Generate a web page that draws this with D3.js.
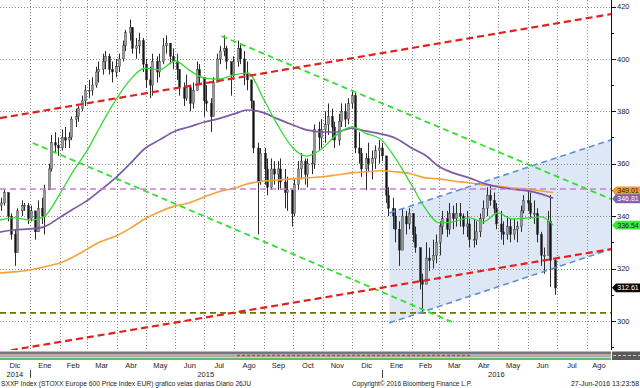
<!DOCTYPE html>
<html>
<head>
<meta charset="utf-8">
<script src="https://cdn.jsdelivr.net/npm/d3@7"></script>
<style>
body { margin: 0; background: #fff; }
svg text { font-family: "Liberation Sans", Arial, sans-serif; fill: #222; }
</style>
</head>
<body>
<script>

// half-week candles (Mon-Wed, Thu-Fri), from the week of 1-Dic-2014 to 27-Jun-2016
var lows = [
  342,344, 338,331, 321,327, 340,342, 337,338,
  331,334, 337,333, 350,357, 364,363, 365,366,
  366,369, 374,376, 380,382, 385,386, 389,391,
  394,396, 394,391, 393,395, 399,403, 407,402,
  400,402, 395,389, 385,386, 391,393, 398,402,
  398,396, 392,386, 382,384, 380,381, 388,390,
  378,380, 372,378, 392,398, 401,396, 386,392,
  397,398, 390,388, 381,364, 333,352, 352,348,
  350,352, 350,350, 343,342, 336,340, 350,354,
  352,351, 356,358, 365,366, 368,371, 369,366,
  367,374, 374,375, 381,364, 360,355, 350,357,
  354,358, 360,361, 345,340, 335,330, 321,330,
  333,335, 330,326, 312,303, 316,319, 320,322,
  325,333, 332,333, 335,336, 336,333, 332,328,
  328,329, 332,337, 340,344, 341,335, 331,329,
  331,330, 331,330, 334,341, 342,339, 337,330,
  321,318, 329,313, 310];
var highs = [
  347,350, 349,341, 335,343, 346,345, 345,344,
  341,346, 347,352, 360,371, 372,370, 373,374,
  372,378, 381,382, 386,390, 392,393, 397,399,
  402,403, 402,399, 400,402, 407,411, 415,412,
  408,410, 408,400, 397,402, 401,402, 408,409,
  406,404, 402,396, 391,394, 390,391, 399,398,
  390,390, 385,393, 402,405, 409,405, 398,401,
  407,406, 403,399, 392,383, 368,366, 366,362,
  362,361, 361,362, 358,355, 350,354, 361,364,
  362,362, 365,375, 376,377, 380,383, 381,376,
  379,383, 383,385, 388,387, 372,366, 364,368,
  365,367, 369,368, 360,351, 347,343, 338,343,
  342,343, 341,336, 327,318, 330,328, 331,333,
  338,342, 342,345, 344,345, 345,341, 342,339,
  339,338, 341,346, 351,352, 349,345, 342,338,
  340,339, 339,338, 344,348, 350,349, 346,343,
  334,328, 342,348, 324];
var closes = [
  345,349, 340,333, 326,342, 344,344, 339,342,
  334,343, 340,350, 358,368, 367,366, 370,369,
  370,377, 378,381, 384,388, 388,390, 395,396,
  399,401, 396,395, 397,400, 405,410, 412,404,
  405,407, 398,392, 390,399, 395,399, 405,406,
  401,399, 396,389, 385,389, 383,388, 396,393,
  384,383, 378,391, 400,403, 404,399, 394,399,
  404,400, 394,392, 384,366, 353,364, 358,351,
  358,356, 358,353, 349,350, 341,352, 358,361,
  356,360, 360,373, 370,373, 375,378, 374,369,
  376,380, 377,383, 386,366, 364,358, 362,360,
  362,365, 366,363, 348,343, 340,335, 327,340,
  337,341, 333,328, 315,314, 324,323, 325,330,
  336,339, 335,341, 339,341, 340,336, 337,331,
  331,334, 339,343, 348,346, 343,337, 334,333,
  336,333, 335,336, 342,346, 345,341, 341,333,
  325,325, 338,323, 312.61];

// moving averages, read on the 1st and 15th of each month
var maDates = [
  "2014-12-01","2014-12-15",
  "2015-01-01","2015-01-15","2015-02-01","2015-02-15","2015-03-01","2015-03-15",
  "2015-04-01","2015-04-15","2015-05-01","2015-05-15","2015-06-01","2015-06-15",
  "2015-07-01","2015-07-15","2015-08-01","2015-08-15","2015-09-01","2015-09-15",
  "2015-10-01","2015-10-15","2015-11-01","2015-11-15","2015-12-01","2015-12-15",
  "2016-01-01","2016-01-15","2016-02-01","2016-02-15","2016-03-01","2016-03-15",
  "2016-04-01","2016-04-15","2016-05-01","2016-05-15","2016-06-01","2016-06-15",
  "2016-06-27"];
var ma50 = [338.5, 339.3, 338.5, 339.6, 348.4, 357.2, 364.8, 374.2, 384.8, 392.0,
  396.5, 395.8, 399.2, 395.8, 392.7, 392.3, 393.9, 394.7, 384.3, 374.8,
  366.0, 362.9, 366.0, 371.0, 374.0, 371.7, 369.0, 362.2, 351.9, 343.1,
  337.4, 337.8, 339.3, 337.8, 341.2, 338.9, 339.3, 339.7, 336.54];
var ma100 = [333.9, 334.7, 335.1, 335.8, 339.5, 342.7, 345.8, 349.8, 355.0, 360.0,
  366.0, 369.0, 372.5, 374.0, 375.9, 377.1, 379.0, 380.5, 379.4, 377.1,
  374.8, 372.9, 372.1, 372.1, 373.6, 372.5, 371.3, 369.8, 366.0, 363.3,
  358.8, 356.5, 354.6, 352.6, 351.1, 350.3, 349.6, 348.4, 346.81];
var ma200 = [318.3, 318.7, 319.4, 320.6, 322.1, 324.4, 327.3, 330.2, 332.5, 335.3,
  339.1, 341.6, 343.9, 345.0, 347.3, 349.2, 350.7, 352.3, 353.4, 353.8,
  354.2, 354.6, 355.0, 355.7, 356.5, 356.9, 357.3, 356.9, 356.1, 354.6,
  354.2, 353.4, 352.7, 351.9, 351.5, 350.7, 350.3, 349.6, 349.01];

// drawn trend lines: [start date, value, end date, value]
var redUpper   = ["2014-12-01", 377.4, "2016-08-26", 417.1];
var redLower   = ["2014-12-01", 288.1, "2016-08-26", 327.4];
var greenUpper = ["2015-07-19", 408.7, "2016-08-26", 346.5];
var greenLower = ["2015-01-04", 367.9, "2016-03-14", 299.6];
var blueUpper  = ["2016-01-09", 341.2, "2016-08-26", 369.1];
var blueLower  = ["2016-01-09", 299.2, "2016-08-26", 327.4];
var levelPink  = 350.3;
var levelOlive = 303.1;

var lastValues = [349.01, 346.81, 336.54, 312.61];
var yTicks = [300, 320, 340, 360, 380, 400, 420];
var monthNames = ["Ene","Feb","Mar","Abr","May","Jun","Jul","Ago","Sep","Oct","Nov","Dic"];

var footLeft = "SXXP Index (STOXX Europe 600 Price Index EUR) grafico velas diarias  Diario 26JU";
var footMid = "Copyright\u00a9 2016 Bloomberg Finance L.P.";
var footRight = "27-Jun-2016 13:23:58";

///////////////////////
// setup
var W = 640, H = 388;
var plotW = 611, plotH = 350;
var parse = d3.utcParse("%Y-%m-%d");

var x = d3.scaleUtc()
    .domain([parse("2014-12-01"), parse("2016-08-26")])
    .range([0, plotW]);
var y = d3.scaleLinear()
    .domain([300, 420])
    .range([320.9, 6.5]);

var svg = d3.select("body").append("svg")
    .attr("width", W)
    .attr("height", H);

svg.append("defs").append("clipPath").attr("id", "plot")
  .append("rect").attr("width", plotW).attr("height", plotH);

var chart = svg.append("g").attr("clip-path", "url(#plot)");

///////////////////////
// blue channel fill
chart.append("path")
    .attr("d", "M" + [
      [x(parse(blueUpper[0])), y(blueUpper[1])],
      [x(parse(blueUpper[2])), y(blueUpper[3])],
      [x(parse(blueLower[2])), y(blueLower[3])],
      [x(parse(blueLower[0])), y(blueLower[1])]
    ].join("L") + "Z")
    .style("fill", "#dde7f6");

///////////////////////
// grid
var monthStarts = d3.utcMonth.range(parse("2015-01-01"), x.domain()[1]);
chart.selectAll(".vgrid").data(monthStarts).enter().append("line")
    .attr("x1", function(d) { return Math.round(x(d)) + 0.5; })
    .attr("x2", function(d) { return Math.round(x(d)) + 0.5; })
    .attr("y1", 0).attr("y2", plotH)
    .style("stroke", "#8a8a8a")
    .style("stroke-dasharray", "1,2");

chart.selectAll(".hgrid").data(yTicks).enter().append("line")
    .attr("x1", 0).attr("x2", plotW)
    .attr("y1", function(d) { return Math.round(y(d)) + 0.5; })
    .attr("y2", function(d) { return Math.round(y(d)) + 0.5; })
    .style("stroke", "#8a8a8a")
    .style("stroke-dasharray", "1,2");

///////////////////////
// candles
var mondays = d3.utcMonday.range(parse("2014-12-01"), parse("2016-06-28"));
var candles = closes.map(function(c, i) {
  var wk = mondays[Math.floor(i / 2)];
  return {
    date: d3.utcHour.offset(wk, i % 2 ? 96 : 36),
    lo: lows[i], hi: highs[i], cl: c,
    op: i ? closes[i - 1] : 344
  };
});

var cg = chart.append("g");
cg.selectAll("line").data(candles).enter().append("line")
    .attr("x1", function(d) { return Math.round(x(d.date)) + 0.5; })
    .attr("x2", function(d) { return Math.round(x(d.date)) + 0.5; })
    .attr("y1", function(d) { return y(d.hi); })
    .attr("y2", function(d) { return y(d.lo); })
    .style("stroke", "#2b2b2b")
    .style("stroke-width", 1);
cg.selectAll("rect").data(candles).enter().append("rect")
    .attr("x", function(d) { return Math.round(x(d.date)) - 0.5; })
    .attr("width", 2)
    .attr("y", function(d) { return Math.min(y(d.op), y(d.cl)); })
    .attr("height", function(d) { return Math.max(1, Math.abs(y(d.op) - y(d.cl))); })
    .style("fill", function(d) { return d.cl >= d.op ? "#9a9a9a" : "#151515"; })
    .style("stroke", "#2b2b2b")
    .style("stroke-width", 0.4);

///////////////////////
// moving averages
var maLine = d3.line()
    .x(function(d, i) { return x(parse(maDates[i])); })
    .y(function(d) { return y(d); })
    .curve(d3.curveMonotoneX);

[[ma200, "#f5a23c", 1.6], [ma100, "#7a5aa6", 1.7], [ma50, "#36d836", 1.3]].forEach(function(m) {
  chart.append("path")
      .attr("d", maLine(m[0]))
      .style("fill", "none")
      .style("stroke", m[1])
      .style("stroke-width", m[2]);
});

///////////////////////
// levels and trend lines
function hLevel(v, color, w) {
  chart.append("line")
      .attr("x1", 0).attr("x2", plotW)
      .attr("y1", y(v)).attr("y2", y(v))
      .style("stroke", color)
      .style("stroke-width", w)
      .style("stroke-dasharray", "6,4");
}
hLevel(levelPink, "#c77fd4", 1.5);
hLevel(levelOlive, "#6f7300", 1.8);

function trend(t, color, w, dash) {
  chart.append("line")
      .attr("x1", x(parse(t[0]))).attr("y1", y(t[1]))
      .attr("x2", x(parse(t[2]))).attr("y2", y(t[3]))
      .style("stroke", color)
      .style("stroke-width", w)
      .style("stroke-dasharray", dash);
}
trend(blueUpper, "#5b8fdc", 1.6, "6,4");
trend(blueLower, "#5b8fdc", 1.6, "6,4");
trend(greenUpper, "#2fe02f", 1.8, "6,4");
trend(greenLower, "#2fe02f", 1.8, "6,4");
trend(redUpper, "#e3201c", 2.2, "7,4");
trend(redLower, "#e3201c", 2.2, "7,4");

///////////////////////
// right axis
var ax = svg.append("g");
ax.append("line")
    .attr("x1", plotW + 0.5).attr("x2", plotW + 0.5)
    .attr("y1", 0).attr("y2", plotH)
    .style("stroke", "#111");
ax.selectAll(".minor").data(d3.range(290, 421, 10)).enter().append("line")
    .attr("x1", plotW).attr("x2", function(d) { return d % 20 ? plotW + 3 : plotW + 5; })
    .attr("y1", function(d) { return Math.round(y(d)) + 0.5; })
    .attr("y2", function(d) { return Math.round(y(d)) + 0.5; })
    .style("stroke", "#111");
ax.selectAll("text").data(yTicks).enter().append("text")
    .attr("x", 617)
    .attr("y", function(d) { return y(d); })
    .attr("dy", "0.35em")
    .style("font-size", "7.5px")
    .text(function(d) { return d; });

///////////////////////
// last value tags (orange sits slightly above, half hidden by purple as in Bloomberg)
var tagColors = [["#f39a2c", "#222"], ["#8262ae", "#fff"], ["#3de83d", "#123"], ["#0a0a0a", "#fff"]];
var tagShift = [-1.5, 0.5, 0, 0];
lastValues.forEach(function(v, i) {
  var ty = y(v) + tagShift[i];
  svg.append("path")
      .attr("d", "M612," + ty + "L616," + (ty - 4.4) + "L640," + (ty - 4.4) + "L640," + (ty + 4.4) + "L616," + (ty + 4.4) + "Z")
      .style("fill", tagColors[i][0]);
  svg.append("text")
      .attr("x", 628).attr("y", ty).attr("dy", "0.35em")
      .attr("text-anchor", "middle")
      .style("font-size", "7px")
      .style("fill", tagColors[i][1])
      .text(v.toFixed(2));
});

///////////////////////
// bottom strip
var strip = svg.append("g");
strip.append("rect").attr("x", 0).attr("y", 351.5).attr("width", plotW).attr("height", 3).style("fill", "#767676");
strip.append("rect").attr("x", 0).attr("y", 354.5).attr("width", plotW).attr("height", 2.5).style("fill", "#adadad");
strip.append("rect").attr("x", 0).attr("y", 357).attr("width", plotW).attr("height", 1).style("fill", "#d2d2d2");
strip.append("rect").attr("x", 0).attr("y", 358).attr("width", plotW).attr("height", 2).style("fill", "#63bb5f");
strip.append("line")
    .attr("x1", x(parse("2015-08-04"))).attr("x2", x(parse("2016-04-03")))
    .attr("y1", 355.5).attr("y2", 355.5)
    .style("stroke", "#c8413c").style("stroke-width", 1.5).style("stroke-dasharray", "3,2");
strip.append("rect").attr("x", plotW + 1).attr("y", 351.5).attr("width", W - plotW).attr("height", 8.5).style("fill", "#5a5a5a");
strip.append("line")
    .attr("x1", plotW + 2).attr("x2", W).attr("y1", 355.5).attr("y2", 355.5)
    .style("stroke", "#ccc").style("stroke-dasharray", "3,2");

///////////////////////
// x axis labels
var monthSpans = d3.utcMonth.range(parse("2014-12-01"), x.domain()[1]);
svg.selectAll(".mlab").data(monthSpans).enter().append("text")
    .attr("x", function(d) {
      var end = Math.min(x(d3.utcMonth.offset(d, 1)), plotW);
      return (x(d) + end) / 2;
    })
    .attr("y", 368)
    .attr("text-anchor", "middle")
    .style("font-size", "7.5px")
    .text(function(d) { return monthNames[d.getUTCMonth()]; });

var years = [["2014", "2014-12-01", "2015-01-01"], ["2015", "2015-01-01", "2016-01-01"], ["2016", "2016-01-01", "2016-08-26"]];
years.forEach(function(yr) {
  svg.append("text")
      .attr("x", (x(parse(yr[1])) + x(parse(yr[2]))) / 2)
      .attr("y", 377)
      .attr("text-anchor", "middle")
      .style("font-size", "7.5px")
      .text(yr[0]);
});
[parse("2015-01-01"), parse("2016-01-01")].forEach(function(d) {
  svg.append("line")
      .attr("x1", Math.round(x(d)) + 0.5).attr("x2", Math.round(x(d)) + 0.5)
      .attr("y1", 370).attr("y2", 378)
      .style("stroke", "#444");
});

///////////////////////
// footer
svg.append("text").attr("x", 1).attr("y", 386)
    .attr("textLength", 250).attr("lengthAdjust", "spacingAndGlyphs")
    .style("font-size", "7px").text(footLeft);
svg.append("text").attr("x", 352).attr("y", 386)
    .attr("textLength", 120).attr("lengthAdjust", "spacingAndGlyphs")
    .style("font-size", "7px").text(footMid);
svg.append("text").attr("x", 571).attr("y", 386)
    .attr("textLength", 68).attr("lengthAdjust", "spacingAndGlyphs")
    .style("font-size", "7px").text(footRight);

</script>
</body>
</html>
